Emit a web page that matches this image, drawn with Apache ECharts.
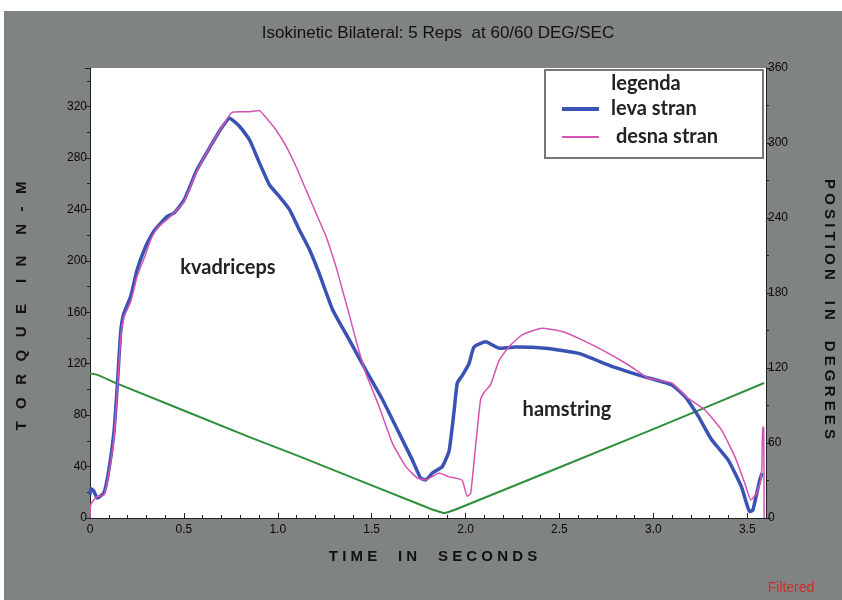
<!DOCTYPE html>
<html>
<head>
<meta charset="utf-8">
<script src="https://cdn.jsdelivr.net/npm/echarts@6/dist/echarts.min.js"></script>
<style>html,body{margin:0;padding:0;background:#fff}#c{width:842px;height:600px}</style>
</head>
<body>
<div id="c"></div>
<script>
// ---- data ----
var titleText = 'Isokinetic Bilateral: 5 Reps  at 60/60 DEG/SEC';
var xTickLabels = ['0', '0.5', '1.0', '1.5', '2.0', '2.5', '3.0', '3.5'];
var leftTickLabels = ['0', '40', '80', '120', '160', '200', '240', '280', '320'];
var rightTickLabels = ['0', '60', '120', '180', '240', '300', '360'];
var seriesNames = ['leva stran', 'desna stran', 'position'];

// leva stran (blue) – time in s, torque in N-M
var levaT = [0, 0.004, 0.02, 0.039, 0.074, 0.10, 0.127, 0.145, 0.163, 0.18, 0.216, 0.251, 0.296, 0.34, 0.41, 0.446, 0.50, 0.57, 0.641, 0.694, 0.743, 0.797, 0.85, 0.903, 0.956, 1.009, 1.062, 1.115, 1.168, 1.221, 1.292, 1.381, 1.469, 1.558, 1.646, 1.717, 1.761, 1.788, 1.823, 1.876, 1.912, 1.938, 1.956, 1.983, 2.018, 2.045, 2.107, 2.18, 2.266, 2.425, 2.602, 2.779, 2.95, 3.098, 3.169, 3.24, 3.31, 3.399, 3.47, 3.514, 3.53, 3.567, 3.58];
var levaV = [18, 23, 21, 15.5, 19.5, 37, 66, 102, 144, 159, 172, 193, 211, 223, 234.5, 237, 247, 271, 289, 302, 311, 304.5, 294, 276, 259, 250, 240, 224, 209, 190, 162, 138.5, 115, 92, 66, 45, 31, 29.6, 35, 40, 52, 82, 105, 111, 120, 133, 137, 132, 133, 132, 128, 118, 110, 103.5, 94.4, 79, 61, 45, 24, 5, 6, 29.6, 35];

// desna stran (pink) – time in s, torque in N-M
var desnaT = [0, 0.003, 0.02, 0.039, 0.074, 0.10, 0.127, 0.145, 0.163, 0.18, 0.216, 0.251, 0.296, 0.322, 0.36, 0.41, 0.446, 0.50, 0.57, 0.641, 0.694, 0.752, 0.80, 0.85, 0.90, 0.94, 0.99, 1.045, 1.098, 1.151, 1.204, 1.257, 1.31, 1.345, 1.381, 1.416, 1.469, 1.54, 1.611, 1.682, 1.744, 1.788, 1.859, 1.912, 1.95, 1.983, 2.009, 2.027, 2.053, 2.08, 2.10, 2.133, 2.177, 2.23, 2.301, 2.407, 2.514, 2.62, 2.744, 2.868, 2.974, 3.098, 3.186, 3.275, 3.363, 3.434, 3.487, 3.519, 3.549, 3.572, 3.578, 3.582, 3.588, 3.59];
var desnaV = [0, 10, 14, 16.6, 18, 34, 62, 98, 140, 156, 168, 188, 205, 216, 226, 232, 237, 246, 270, 289, 302, 315, 316, 316, 317, 311, 302, 289, 273, 255, 237, 219, 195.5, 177, 158, 138.5, 112.6, 86.6, 58, 40, 31, 29.6, 35, 32, 31, 29, 17, 19, 55.5, 92, 98, 103.5, 122, 133, 142.4, 147.6, 145, 138.5, 129.4, 119, 108.7, 105, 93, 84, 68.5, 47.7, 27, 14, 19, 29.6, 40, 71, 70, 0];

// position (green) – time in s, degrees
var posT = [0, 0.04, 0.145, 0.853, 1.115, 1.806, 1.86, 1.885, 1.91, 1.983, 2.974, 3.59];
var posV = [115.7, 114.5, 107.5, 64.5, 49.3, 7.8, 5, 4, 4.8, 9, 69.5, 108];

function pairs(t, v) { return t.map(function (x, i) { return [x, v[i]]; }); }

var GRAY = '#7f8381';
var AXC = '#222';
var LBL = { color: '#0a0a0a', fontFamily: 'Liberation Sans, Arial, sans-serif', fontSize: 12 };
var NOTE = { fontFamily: 'Lato, sans-serif', fontWeight: 'bold', fontSize: 20, fill: '#222' };
var NAMEF = { fontFamily: 'Liberation Sans, Arial, sans-serif', fontWeight: 'bold', fontSize: 15, fill: '#111' };

function rep(n) { return new Array(n + 1).join(' '); }
function spaced(s, lg, wg) {
  return s.split(' ').map(function (w) { return w.split('').join(rep(lg)); }).join(rep(wg));
}

var chart = echarts.init(document.getElementById('c'), null, { renderer: 'canvas' });
chart.setOption({
  animation: false,
  backgroundColor: GRAY,
  title: {
    text: titleText, left: 433, top: 20, textAlign: 'center',
    textStyle: { fontFamily: 'Liberation Sans, Arial, sans-serif', fontWeight: 'normal', fontSize: 17, color: '#111' }
  },
  grid: { left: 90, right: 76, top: 68, bottom: 82, show: true, backgroundColor: '#fff', borderWidth: 0 },
  legend: [
    { data: [seriesNames[0]], left: 562, top: 99, padding: 0, itemWidth: 37, itemHeight: 4, icon: 'rect', selectedMode: false, z: 10,
      textStyle: { fontFamily: 'Lato, sans-serif', fontWeight: 'bold', fontSize: 20, color: '#222', padding: [0, 0, 0, 7] } },
    { data: [seriesNames[1]], left: 562, top: 127, padding: 0, itemWidth: 37, itemHeight: 2, icon: 'rect', selectedMode: false, z: 10,
      textStyle: { fontFamily: 'Lato, sans-serif', fontWeight: 'bold', fontSize: 20, color: '#222', padding: [0, 0, 0, 12] } }
  ],
  xAxis: {
    type: 'value', min: 0, max: 3.6, interval: 0.5,
    axisLine: { show: true, lineStyle: { color: AXC, width: 1 } },
    axisTick: { show: true, inside: true, length: 5, lineStyle: { color: AXC } },
    minorTick: { show: true, splitNumber: 5, length: 3, lineStyle: { color: AXC } },
    splitLine: { show: false },
    axisLabel: Object.assign({ margin: 6, formatter: function (v) {
      var k = Math.round(v * 2);
      if (Math.abs(v * 2 - k) > 1e-6 || k >= xTickLabels.length) return '';
      return xTickLabels[k];
    } }, LBL)
  },
  yAxis: [
    {
      type: 'value', position: 'left', min: 0, max: 350, interval: 40,
      axisLine: { show: true, lineStyle: { color: AXC } },
      axisTick: { show: true, length: 5, lineStyle: { color: AXC } },
      minorTick: { show: true, splitNumber: 2, length: 3, lineStyle: { color: AXC } },
      splitLine: { show: false },
      axisLabel: Object.assign({ margin: 3, formatter: function (v) {
        var k = Math.round(v / 40);
        if (Math.abs(v - k * 40) > 1e-6 || k >= leftTickLabels.length) return '';
        return leftTickLabels[k];
      } }, LBL)
    },
    {
      type: 'value', position: 'right', min: 0, max: 360, interval: 60,
      axisLine: { show: true, lineStyle: { color: AXC } },
      axisTick: { show: true, length: 5, lineStyle: { color: AXC } },
      minorTick: { show: true, splitNumber: 2, length: 3, lineStyle: { color: AXC } },
      splitLine: { show: false },
      axisLabel: Object.assign({ margin: 2, formatter: function (v) {
        var k = Math.round(v / 60);
        return rightTickLabels[k] || '';
      } }, LBL)
    }
  ],
  series: [
    { name: seriesNames[2], type: 'line', yAxisIndex: 1, data: pairs(posT, posV), symbol: 'none', smooth: 0.1,
      lineStyle: { color: '#2f8f3c', width: 2 }, itemStyle: { color: '#2f8f3c' }, z: 2 },
    { name: seriesNames[0], type: 'line', yAxisIndex: 0, data: pairs(levaT, levaV), symbol: 'none', smooth: 0.15,
      lineStyle: { color: '#3a52b4', width: 3.5 }, itemStyle: { color: '#3a52b4' }, z: 3 },
    { name: seriesNames[1], type: 'line', yAxisIndex: 0, data: pairs(desnaT, desnaV), symbol: 'none', smooth: 0.15,
      lineStyle: { color: '#d453b4', width: 1.5 }, itemStyle: { color: '#d453b4' }, z: 4 }
  ],
  graphic: [
    { type: 'rect', shape: { x: 0, y: 0, width: 842, height: 11 }, style: { fill: '#fff' }, silent: true },
    { type: 'rect', shape: { x: 0, y: 0, width: 4, height: 600 }, style: { fill: '#fff' }, silent: true },
    { type: 'rect', z: 5, shape: { x: 545, y: 70, width: 218, height: 88 }, style: { fill: '#fff', stroke: '#777', lineWidth: 2 } },
    { type: 'text', z: 6, x: 646, y: 84, style: Object.assign({ text: 'legenda', align: 'center', verticalAlign: 'middle' }, NOTE) },
    { type: 'text', z: 6, x: 228, y: 268, style: Object.assign({ text: 'kvadriceps', align: 'center', verticalAlign: 'middle' }, NOTE) },
    { type: 'text', z: 6, x: 567, y: 410, style: Object.assign({ text: 'hamstring', align: 'center', verticalAlign: 'middle' }, NOTE) },
    { type: 'text', z: 6, x: 22, y: 306, rotation: Math.PI / 2,
      style: Object.assign({ text: spaced('TORQUE IN N-M', 3, 5), align: 'center', verticalAlign: 'middle' }, NAMEF) },
    { type: 'text', z: 6, x: 829, y: 309, rotation: -Math.PI / 2,
      style: Object.assign({ text: spaced('POSITION IN DEGREES', 1, 5), align: 'center', verticalAlign: 'middle' }, NAMEF) },
    { type: 'text', z: 6, x: 433, y: 557,
      style: Object.assign({ text: spaced('TIME IN SECONDS', 1, 5), align: 'center', verticalAlign: 'middle' }, NAMEF) },
    { type: 'text', z: 6, x: 791, y: 588,
      style: { text: 'Filtered', align: 'center', verticalAlign: 'middle', fontFamily: 'Liberation Sans, Arial, sans-serif', fontSize: 14, fill: '#c8312b' } }
  ]
});
</script>
</body>
</html>
